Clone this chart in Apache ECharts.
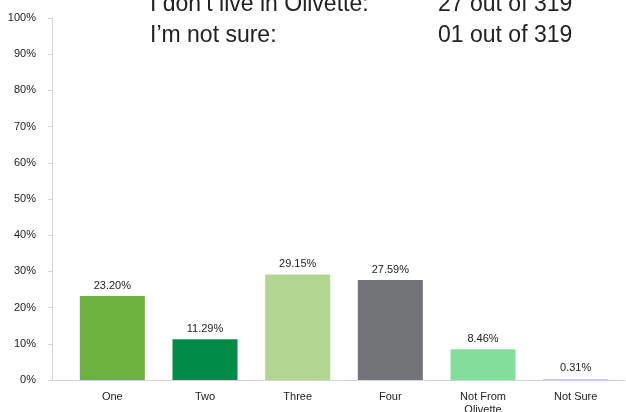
<!DOCTYPE html>
<html>
<head>
<meta charset="utf-8">
<script src="https://cdn.jsdelivr.net/npm/echarts@6/dist/echarts.min.js"></script>
<style>
  html, body { margin: 0; padding: 0; background: #fff; }
  #chart { width: 626px; height: 412px; }
</style>
</head>
<body>
<div id="chart"></div>
<script>
// Survey responses: share of respondents per answer
const categories = ['One', 'Two', 'Three', 'Four', 'Not From\nOlivette', 'Not Sure'];
const shares = [23.20, 11.29, 29.15, 27.59, 8.46, 0.31];
const barColors = ['#6cb33e', '#008c47', '#b2d68f', '#737477', '#83de9b', '#b9dc9c'];
const yTicks = [0, 10, 20, 30, 40, 50, 60, 70, 80, 90, 100];

// Response counts noted above the chart
const noteLabels = ['I don\u2019t live in Olivette:', 'I\u2019m not sure:'];
const noteCounts = ['27 out of 319', '01 out of 319'];

const FONT = '"Liberation Sans", Arial, Helvetica, sans-serif';

const chart = echarts.init(document.getElementById('chart'), null, { renderer: 'canvas' });

const noteGraphics = [];
noteLabels.forEach((t, i) => {
  const baseY = 10 + i * 31;
  noteGraphics.push({
    type: 'text', left: 150, top: baseY - 17,
    style: { text: t, font: '23px ' + FONT, fill: '#222' }
  });
  noteGraphics.push({
    type: 'text', left: 438, top: baseY - 17,
    style: { text: noteCounts[i], font: '23px ' + FONT, fill: '#222' }
  });
});

chart.setOption({
  animation: false,
  grid: [
    { left: 66, right: 4, top: 18, bottom: 32, outerBoundsMode: 'none', containLabel: false },
    { left: 52, right: 1, top: 18, bottom: 32, outerBoundsMode: 'none', containLabel: false }
  ],
  graphic: noteGraphics,
  xAxis: [
    {
      type: 'category',
      gridIndex: 0,
      data: categories,
      axisLine: { show: false },
      axisTick: { show: false },
      axisLabel: {
        color: '#222', fontFamily: FONT, fontSize: 11, margin: 10, lineHeight: 13,
        interval: 0
      }
    },
    {
      type: 'value',
      gridIndex: 1,
      min: 0, max: 1,
      axisLine: { show: true, lineStyle: { color: '#d4d4da', width: 1 } },
      axisTick: { show: false },
      axisLabel: { show: false },
      splitLine: { show: false }
    }
  ],
  yAxis: [
    {
      type: 'value',
      gridIndex: 0,
      min: 0, max: 100, interval: 10,
      offset: 14,
      axisLine: { show: true, lineStyle: { color: '#d4d4da', width: 1 } },
      axisTick: { show: true, length: 4, lineStyle: { color: '#d4d4da' } },
      splitLine: { show: false },
      axisLabel: {
        color: '#222', fontFamily: FONT, fontSize: 11, margin: 16,
        formatter: v => (yTicks.includes(v) ? v + '%' : '')
      }
    },
    { type: 'value', gridIndex: 1, show: false, min: 0, max: 100 }
  ],
  series: [{
    type: 'bar',
    xAxisIndex: 0,
    yAxisIndex: 0,
    barWidth: 65,
    data: shares.map((v, i) => ({ value: v, itemStyle: { color: barColors[i] } })),
    label: {
      show: true, position: 'top', distance: 5,
      color: '#222', fontFamily: FONT, fontSize: 11,
      formatter: p => p.value.toFixed(2) + '%'
    }
  }]
});
</script>
</body>
</html>
